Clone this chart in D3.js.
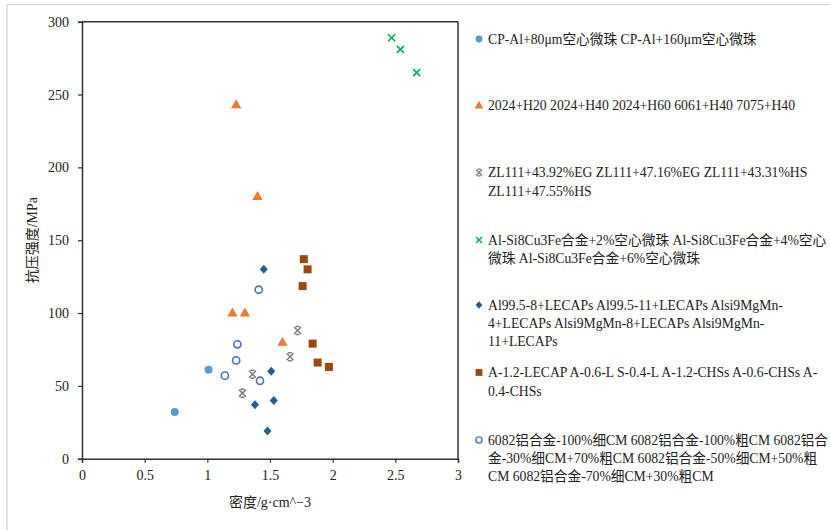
<!DOCTYPE html>
<html>
<head>
<meta charset="utf-8">
<script src="https://cdn.jsdelivr.net/npm/d3@7/dist/d3.min.js"></script>
<style>
  body { margin: 0; background: #fff; }
  text { font-family: "Liberation Serif", "Noto Sans CJK SC", serif; fill: #222; }
</style>
</head>
<body>
<div id="chart"></div>
<script>
// Data -------------------------------------
var seriesNames = [
  ["CP-Al+80μm空心微珠 CP-Al+160μm空心微珠"],
  ["2024+H20 2024+H40 2024+H60 6061+H40 7075+H40"],
  ["ZL111+43.92%EG ZL111+47.16%EG ZL111+43.31%HS", "ZL111+47.55%HS"],
  ["Al-Si8Cu3Fe合金+2%空心微珠 Al-Si8Cu3Fe合金+4%空心", "微珠 Al-Si8Cu3Fe合金+6%空心微珠"],
  ["Al99.5-8+LECAPs Al99.5-11+LECAPs Alsi9MgMn-", "4+LECAPs Alsi9MgMn-8+LECAPs Alsi9MgMn-", "11+LECAPs"],
  ["A-1.2-LECAP A-0.6-L S-0.4-L A-1.2-CHSs A-0.6-CHSs A-", "0.4-CHSs"],
  ["6082铝合金-100%细CM 6082铝合金-100%粗CM 6082铝合", "金-30%细CM+70%粗CM 6082铝合金-50%细CM+50%粗", "CM 6082铝合金-70%细CM+30%粗CM"]
];

var cpAl_x = [0.74, 1.01];
var cpAl_y = [32, 61];
var h_x = [1.2, 1.3, 1.23, 1.4, 1.6];
var h_y = [100, 100, 243, 180, 80];
var zl_x = [1.28, 1.36, 1.66, 1.72];
var zl_y = [45, 58, 70, 88];
var si_x = [2.47, 2.54, 2.67];
var si_y = [289, 281, 265];
var lecaps_x = [1.45, 1.51, 1.38, 1.53, 1.48];
var lecaps_y = [130, 60, 37, 40, 19];
var chss_x = [1.77, 1.80, 1.76, 1.84, 1.88, 1.97];
var chss_y = [137, 130, 118.5, 79, 66, 63];
var cm_x = [1.41, 1.24, 1.23, 1.14, 1.42];
var cm_y = [116, 78.5, 67.5, 57, 53.5];

var xTicks = [0, 0.5, 1, 1.5, 2, 2.5, 3];
var yTicks = [0, 50, 100, 150, 200, 250, 300];

var allX = [cpAl_x, h_x, zl_x, si_x, lecaps_x, chss_x, cm_x];
var allY = [cpAl_y, h_y, zl_y, si_y, lecaps_y, chss_y, cm_y];
var colors = ['#5B9BD5', '#ED7D31', '#7F7F7F', '#00B050', '#255E91', '#9E480E', '#4472C4'];
var shapes = ['circle', 'triangle', 'star', 'cross', 'diamond', 'square', 'ring'];

// Layout -------------------------------------
var width = 830, height = 530;
var margin = { left: 82, top: 21.7, right: 458, bottom: 458.7 };

var svg = d3.select('#chart').append('svg')
  .attr('width', width)
  .attr('height', height);

// page frame
svg.append('line').attr('x1', 7).attr('x2', width).attr('y1', 4.5).attr('y2', 4.5)
  .attr('stroke', '#d9d9d9').attr('stroke-width', 1.5);
svg.append('line').attr('x1', 7).attr('x2', 7).attr('y1', 4.5).attr('y2', height)
  .attr('stroke', '#d9d9d9').attr('stroke-width', 1.5);

var x = d3.scaleLinear().domain([0, 3]).range([margin.left, margin.right]);
var y = d3.scaleLinear().domain([0, 300]).range([margin.bottom, margin.top]);

// Axes -------------------------------------
var xAxis = svg.append('g')
  .attr('transform', 'translate(0,' + margin.bottom + ')')
  .call(d3.axisBottom(x).tickValues(xTicks).tickSize(4).tickPadding(7)
    .tickFormat(function(d) { return String(d); }));
var yAxis = svg.append('g')
  .attr('transform', 'translate(' + margin.left + ',0)')
  .call(d3.axisLeft(y).tickValues(yTicks).tickSize(4).tickPadding(9));

[xAxis, yAxis].forEach(function(a) {
  a.select('.domain').attr('stroke', '#333').attr('stroke-width', 1.5);
  a.selectAll('.tick line').attr('stroke', '#333').attr('stroke-width', 1.2);
  a.selectAll('.tick text').style('font-size', '14px').attr('fill', '#222')
    .style('font-family', '"Liberation Serif", serif');
});

// top and right border
svg.append('line').attr('x1', margin.left).attr('x2', margin.right)
  .attr('y1', margin.top).attr('y2', margin.top)
  .attr('stroke', '#333').attr('stroke-width', 1.5);
svg.append('line').attr('x1', margin.right).attr('x2', margin.right)
  .attr('y1', margin.top).attr('y2', margin.bottom)
  .attr('stroke', '#333').attr('stroke-width', 1.5);

// Axis titles
svg.append('text')
  .attr('transform', 'translate(37,' + ((margin.top + margin.bottom) / 2) + ') rotate(-90)')
  .attr('text-anchor', 'middle')
  .style('font-size', '14px')
  .text('抗压强度/MPa');
svg.append('text')
  .attr('x', (margin.left + margin.right) / 2)
  .attr('y', 507)
  .attr('text-anchor', 'middle')
  .style('font-size', '14px')
  .text('密度/g·cm^−3');

// Markers -------------------------------------
function drawMarker(g, shape, color) {
  if (shape == 'circle') {
    g.append('circle').attr('r', 4).attr('fill', color);
  } else if (shape == 'ring') {
    g.append('circle').attr('r', 3.6).attr('fill', '#fff').attr('stroke', color).attr('stroke-width', 1.6);
  } else if (shape == 'triangle') {
    g.append('path').attr('d', d3.symbol().type(d3.symbolTriangle).size(46)).attr('fill', color)
      .attr('transform', 'translate(0,0.5)');
  } else if (shape == 'square') {
    g.append('rect').attr('x', -4).attr('y', -4).attr('width', 8).attr('height', 8).attr('fill', color);
  } else if (shape == 'diamond') {
    g.append('path').attr('d', 'M0,-4.5L4,0L0,4.5L-4,0Z').attr('fill', color);
  } else if (shape == 'cross') {
    g.append('path').attr('d', 'M-3.5,-3.5L3.5,3.5M-3.5,3.5L3.5,-3.5')
      .attr('stroke', color).attr('stroke-width', 1.6).attr('fill', 'none');
  } else if (shape == 'star') {
    g.append('path').attr('d', 'M-3.5,-3.5L3.5,3.5M-3.5,3.5L3.5,-3.5M-2,-4L2,-4M-2,4L2,4')
      .attr('stroke', color).attr('stroke-width', 1.5).attr('fill', 'none');
  }
}

allX.forEach(function(xs, i) {
  var pts = xs.map(function(v, j) { return [v, allY[i][j]]; });
  svg.append('g').selectAll('g')
    .data(pts)
    .enter()
    .append('g')
    .attr('transform', function(d) { return 'translate(' + x(d[0]) + ',' + y(d[1]) + ')'; })
    .each(function() { drawMarker(d3.select(this), shapes[i], colors[i]); });
});

// Legend -------------------------------------
var legendTop = [39, 105.5, 172.5, 240, 305, 372.5, 440];
var lineGap = 18.3;
var maxTextWidth = 828 - 488;

seriesNames.forEach(function(lines, i) {
  var lg = svg.append('g').attr('transform', 'translate(479,' + legendTop[i] + ')');
  drawMarker(lg.append('g').attr('transform', 'scale(0.85)'), shapes[i], colors[i]);
  lines.forEach(function(t, k) {
    var txt = lg.append('text')
      .attr('x', 9)
      .attr('y', k * lineGap)
      .attr('dy', '0.35em')
      .style('font-size', '13.7px')
      .text(t);
    // squeeze lines that would run past the right edge
    if (txt.node().getComputedTextLength() > maxTextWidth) {
      txt.attr('textLength', maxTextWidth).attr('lengthAdjust', 'spacingAndGlyphs');
    }
  });
});
</script>
</body>
</html>
